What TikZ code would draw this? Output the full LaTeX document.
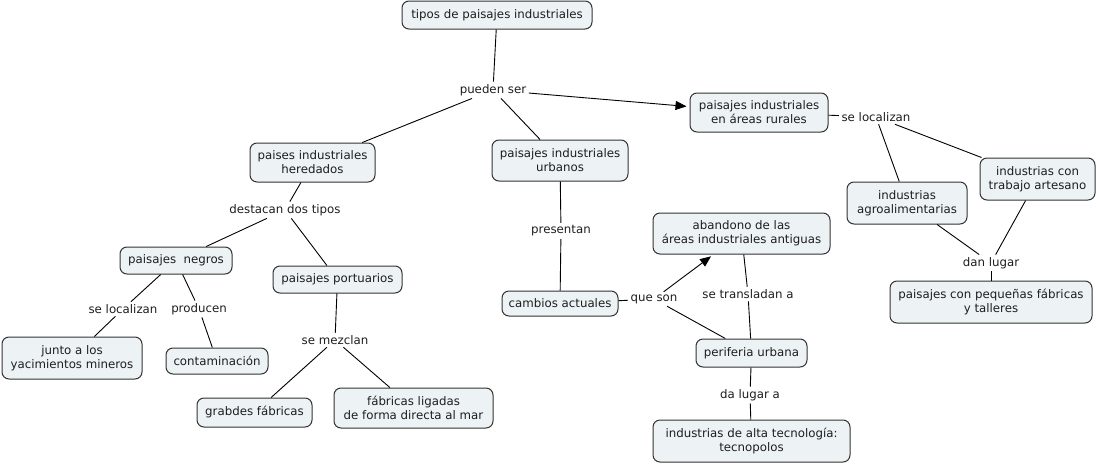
\documentclass[tikz,border=0pt]{standalone}
\usepackage{fontspec}
\setmainfont{DejaVu Sans}
\usetikzlibrary{arrows.meta}
\definecolor{boxfill}{HTML}{EDF3F5}
\definecolor{boxline}{HTML}{333333}
\definecolor{txt}{HTML}{1E1E1E}
\tikzset{
  cbox/.style={draw=boxline, fill=boxfill, line width=1pt, rounded corners=7pt,
    inner sep=0pt, align=center, text=txt, font=\fontsize{11.8}{14}\selectfont},
  lab/.style={inner sep=2.5pt, text=txt, font=\fontsize{11.8}{14}\selectfont},
  conn/.style={draw=black, line width=0.9pt},
  arr/.style={conn, -{Triangle[length=11pt,width=9pt]}, shorten >=3pt}
}
\begin{document}
\begin{tikzpicture}[x=1pt,y=-1pt]
\useasboundingbox (0,0) rectangle (1096,464);
% concepts
\node[cbox, minimum width=190pt, minimum height=28pt] (tipos) at (497,15) {tipos de paisajes industriales};
\node[cbox, minimum width=138pt, minimum height=39pt] (rurales) at (759,112.5) {paisajes industriales\\en áreas rurales};
\node[cbox, minimum width=115pt, minimum height=42pt] (artesano) at (1037.5,179) {industrias con\\trabajo artesano};
\node[cbox, minimum width=120pt, minimum height=42pt] (agro) at (907,203) {industrias\\agroalimentarias};
\node[cbox, minimum width=202pt, minimum height=42pt] (pequenas) at (991,302) {paisajes con pequeñas fábricas\\y talleres};
\node[cbox, minimum width=125pt, minimum height=39pt] (heredados) at (312.5,162.5) {paises industriales\\heredados};
\node[cbox, minimum width=136pt, minimum height=41pt] (urbanos) at (560,160.5) {paisajes industriales\\urbanos};
\node[cbox, minimum width=112pt, minimum height=27pt] (negros) at (176,260.5) {paisajes\ \ negros};
\node[cbox, minimum width=129pt, minimum height=27pt] (portuarios) at (337.5,279.5) {paisajes portuarios};
\node[cbox, minimum width=140pt, minimum height=42pt] (junto) at (72,358) {junto a los\\yacimientos mineros};
\node[cbox, minimum width=102pt, minimum height=26pt] (contam) at (217,361) {contaminación};
\node[cbox, minimum width=115pt, minimum height=29pt] (grabdes) at (254.5,412.5) {grabdes fábricas};
\node[cbox, minimum width=159pt, minimum height=40pt] (ligadas) at (413.5,408) {fábricas ligadas\\de forma directa al mar};
\node[cbox, minimum width=116pt, minimum height=25pt] (cambios) at (560,303.5) {cambios actuales};
\node[cbox, minimum width=177pt, minimum height=41pt] (abandono) at (741.5,233.5) {abandono de las\\áreas industriales antiguas};
\node[cbox, minimum width=111pt, minimum height=28pt] (periferia) at (751.5,353) {periferia urbana};
\node[cbox, minimum width=197pt, minimum height=42pt] (tecno) at (751.5,441) {industrias de alta tecnología:\\tecnopolos};
% linking phrases
\node[lab] (pueden) at (493,90) {pueden ser};
\node[lab] (selocR) at (876,117) {se localizan};
\node[lab] (danlugar) at (991,263) {dan lugar};
\node[lab] (destacan) at (285,210) {destacan dos tipos};
\node[lab] (selocL) at (123,309) {se localizan};
\node[lab] (producen) at (199,309) {producen};
\node[lab] (mezclan) at (335,340) {se mezclan};
\node[lab] (presentan) at (561,231) {presentan};
\node[lab] (queson) at (654,299) {que son};
\node[lab] (transladan) at (748,294) {se transladan a};
\node[lab] (dalugar) at (750,395) {da lugar a};
% connectors
\draw[conn] (tipos) -- (pueden);
\draw[arr] (pueden) -- (rurales);
\draw[conn] (pueden) -- (heredados);
\draw[conn] (pueden) -- (urbanos);
\draw[conn] (rurales) -- (selocR);
\draw[conn] (selocR) -- (agro);
\draw[conn] (selocR) -- (artesano);
\draw[conn] (agro) -- (danlugar);
\draw[conn] (artesano) -- (danlugar);
\draw[conn] (danlugar) -- (pequenas);
\draw[conn] (heredados) -- (destacan);
\draw[conn] (destacan) -- (negros);
\draw[conn] (destacan) -- (portuarios);
\draw[conn] (negros) -- (selocL);
\draw[conn] (selocL) -- (junto);
\draw[conn] (negros) -- (producen);
\draw[conn] (producen) -- (contam);
\draw[conn] (portuarios) -- (mezclan);
\draw[conn] (mezclan) -- (grabdes);
\draw[conn] (mezclan) -- (ligadas);
\draw[conn] (urbanos) -- (presentan);
\draw[conn] (presentan) -- (cambios);
\draw[conn] (cambios) -- (queson);
\draw[arr] (queson) -- (abandono);
\draw[conn] (periferia) -- (queson);
\draw[conn] (abandono) -- (transladan);
\draw[conn] (transladan) -- (periferia);
\draw[conn] (periferia) -- (dalugar);
\draw[conn] (dalugar) -- (tecno);
\end{tikzpicture}
\end{document}
